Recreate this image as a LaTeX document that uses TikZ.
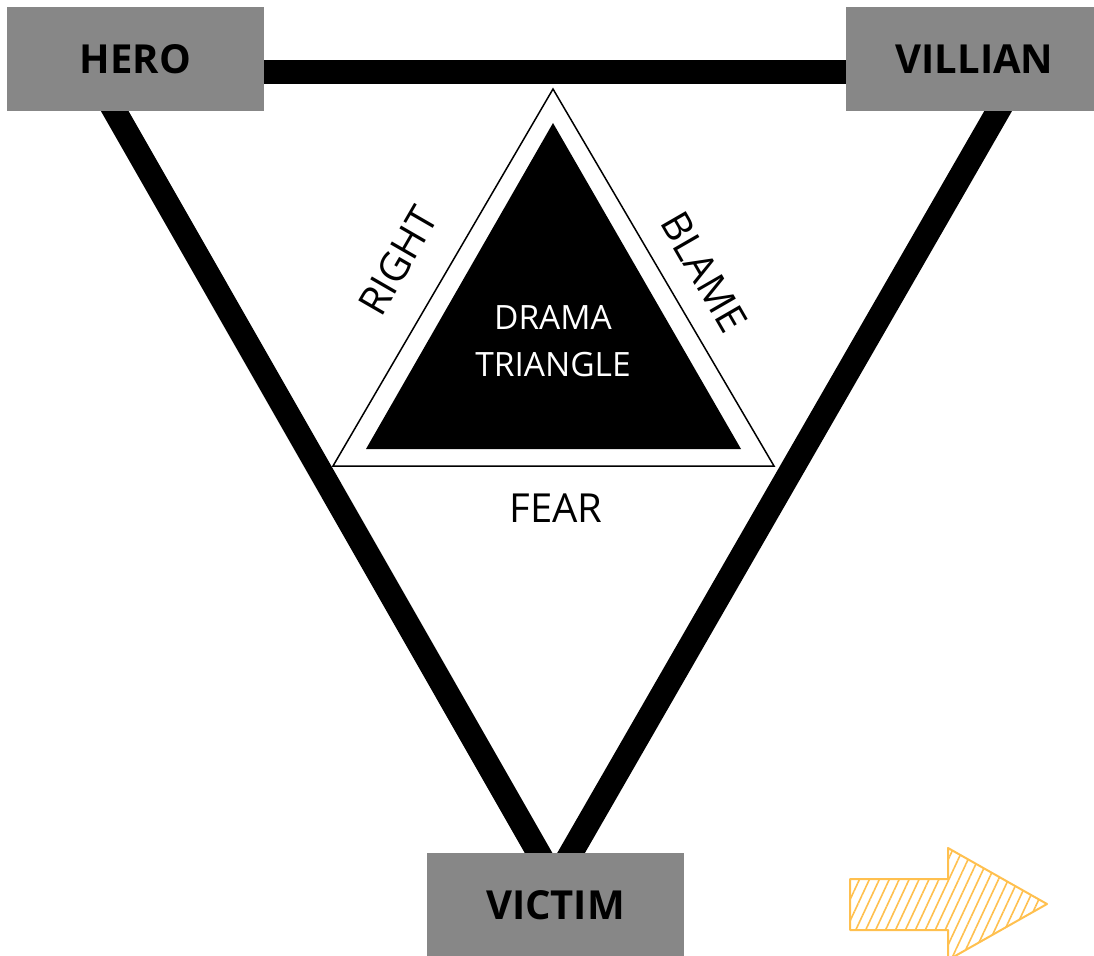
\documentclass[tikz,border=0pt]{standalone}
\usepackage{fontspec}
\setmainfont{Open Sans}
\usetikzlibrary{patterns.meta}
\definecolor{boxgray}{HTML}{878787}
\definecolor{arroworange}{HTML}{FFC04F}

\begin{document}
\begin{tikzpicture}[x=1pt,y=-1pt,
        role/.style={fill=boxgray, minimum width=257pt, minimum height=104pt, inner sep=0pt,
            font=\fontsize{40}{46}\selectfont\bfseries},
        bond/.style={line width=24pt},
        tag/.style={font=\fontsize{40}{48}\selectfont}]
        \clip (0,0) rectangle (1094,955);

        % ends of the thick bonds, hidden under the boxes
        \coordinate (hero_bar) at (250,72);
        \coordinate (villian_bar) at (860,72);
        \coordinate (hero_leg) at (97,80);
        \coordinate (villian_leg) at (1016,80);
        \coordinate (victim_left) at (554,880);
        \coordinate (victim_right) at (555.5,880);

        \draw[bond] (hero_bar) -- (villian_bar);
        \draw[bond] (hero_leg) -- (victim_left);
        \draw[bond] (villian_leg) -- (victim_right);

        \node[role] (hero) at (135.5,59) {HERO};
        \node[role] (villian) at (974.5,59) {VILLIAN};
        \node[role] (victim) at (555.5,905) {VICTIM};

        % drama triangle
        \coordinate (outer_top) at (553,89);
        \coordinate (outer_left) at (333,466);
        \coordinate (outer_right) at (774,466);
        \coordinate (inner_top) at (553,123);
        \coordinate (inner_left) at (366,449);
        \coordinate (inner_right) at (741,449);

        \draw[line width=1.5pt] (outer_top) -- (outer_left) -- (outer_right) -- cycle;
        \fill (inner_top) -- (inner_left) -- (inner_right) -- cycle;

        \node[text=white, align=center, font=\fontsize{33.5}{47}\selectfont] (drama) at (553,341.5) {DRAMA\\TRIANGLE};
        \node[tag, rotate=60] (right) at (398,261) {RIGHT};
        \node[tag, rotate=-60] (blame) at (704,272) {BLAME};
        \node[tag] (fear) at (556,508) {FEAR};

        % hatched arrow
        \draw[arroworange, line width=2pt, line join=round,
            pattern={Lines[angle=65,distance=9pt,line width=1.6pt]}, pattern color=arroworange]
            (850,879) -- (948,879) -- (948,848) -- (1047,904) -- (948,960) -- (948,930) -- (850,930) -- cycle;
\end{tikzpicture}
\end{document}
